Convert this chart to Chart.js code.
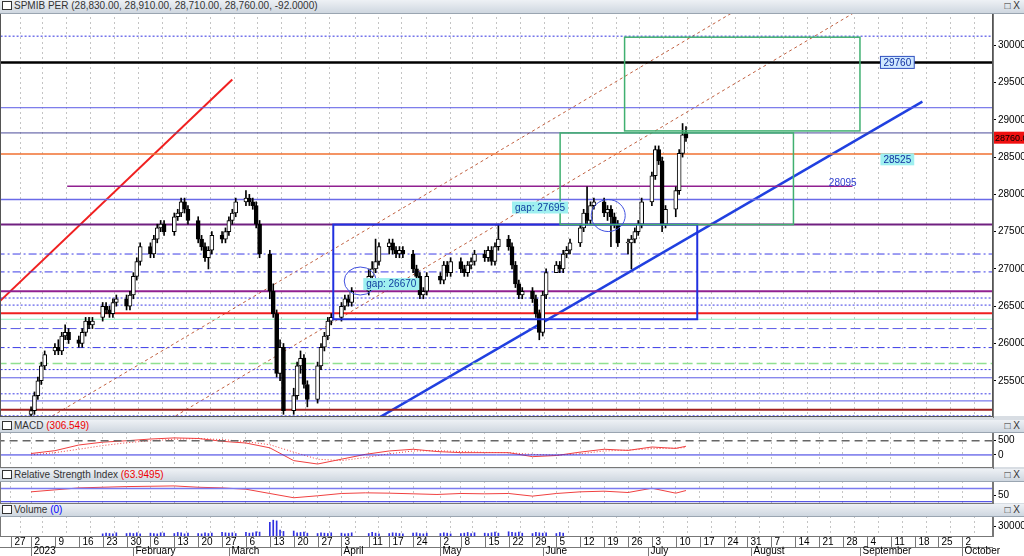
<!DOCTYPE html>
<html>
<head>
<meta charset="utf-8">
<script src="https://cdn.jsdelivr.net/npm/chart.js@4/dist/chart.umd.min.js"></script>
<style>
body { margin: 0; width: 1024px; height: 556px; background: #d8dde3; position: relative; overflow: hidden; font-family: "Liberation Sans", Arial, sans-serif; }
canvas { position: absolute; left: 0; }
.bg { position: absolute; left: 0; width: 1024px; background: #fff; }
.bar { position: absolute; left: 0; width: 1024px; z-index: 2; background: linear-gradient(#eef1f5, #cfd7e0); font-size: 10px; line-height: 12px; color: #333; border-bottom: 1px solid #9aa5b1; }
.bar .ico { display: inline-block; width: 8px; height: 7px; border: 1px solid #333; margin: 0 2px 0 2px; vertical-align: -1px; background: #fff; }
.bar .btn { position: absolute; right: 4px; top: 0; font-size: 10px; }
</style>
</head>
<body>
<div class="bg" style="top:13px;height:403px"></div>
<div class="bg" style="top:433px;height:34px"></div>
<div class="bg" style="top:482px;height:21px"></div>
<div class="bg" style="top:517px;height:39px"></div>
<div class="bar" style="top:0;height:13px"><span class="ico"></span>SPMIB PER (28,830.00, 28,910.00, 28,710.00, 28,760.00, -92.0000)<span class="btn">&#9633; X</span></div>
<canvas id="main" width="1024" height="421" style="top:4px"></canvas>
<div class="bar" style="top:420px;height:12px"><span class="ico"></span>MACD <span style="color:#e00">(306.549)</span><span class="btn">&#9633; X</span></div>
<canvas id="macd" width="1024" height="52" style="top:424px"></canvas>
<div class="bar" style="top:469px;height:12px"><span class="ico"></span>Relative Strength Index <span style="color:#e00">(63.9495)</span><span class="btn">&#9633; X</span></div>
<canvas id="rsi" width="1024" height="39" style="top:473px"></canvas>
<div class="bar" style="top:504px;height:12px"><span class="ico"></span>Volume <span style="color:#00f">(0)</span><span class="btn">&#9633; X</span></div>
<canvas id="vol" width="1024" height="48" style="top:508px"></canvas>
<script>
// daily OHLC, Jan 2 - Jul 13 2023
const opens = [25050,25100,25300,25500,25700, 25900,25950,25900,26100,26150, 26050,26000,26150,26300,26250, 26350,26500,26450,26400,26550, 26600,26500,
  26650,26900,27100, 27300,27200,27400,27550,27600, 27500,27700,27750,27900,27800, 27650,27400,27300,27150,27250, 27450,27400,27500,27650,27750,
  27900,27950,27900,27850,27600, 27200,26700,26400,25600,25950, 25100,25300,25700,25800,25450, 25250,25700,25950,26100,26300,
  26350,26500,26600,26550, 26700,26900,27000,27100, 27300,27350,27250,27200,27250, 27200,27000,26900,26650,26700,
  26900,26850,27050,26950, 27100,27000,26950,27050,27100, 27200,27150,27250,27100,27300, 27400,27300,27050,26800,26650,
  26700,26600,26400,26150,26650, 26950,27050,27000,27200,27250, 27350,27550,27750,27650,27850, 27900,27750,27800,27700,27600,
  27350,27350,27400,27500,27600, 27900,28250,28600,28450,27600, 27800,28050,28550,28830];
const highs = [25150,25350,25550,25750,25900, 26000,26050,26150,26250,26200, 26100,26200,26350,26350,26350, 26550,26550,26500,26600,26650, 26650,26700,
  26950,27150,27350, 27350,27450,27600,27650,27650, 27750,27800,27950,27950,27850, 27700,27450,27350,27300,27500, 27500,27550,27700,27800,27950,
  28050,28000,27950,27900,27650, 27250,26800,26450,26050,26000, 25400,25750,25900,25850,25500, 25750,26000,26150,26350,26400,
  26550,26650,26650,26750, 27000,27100,27400,27350, 27400,27400,27300,27300,27300, 27250,27050,26950,26750,26950,
  26950,27100,27100,27150, 27150,27050,27100,27150,27250, 27250,27300,27300,27350,27600, 27450,27350,27100,26850,26750,
  26750,26650,26450,26700,27000, 27100,27100,27250,27300,27400, 27600,27800,28100,27900,27950, 27950,27850,27850,27750,27650,
  27400,27450,27550,27650,27950, 28300,28650,28650,28500,27850, 28100,28600,28950,28910];
const lows = [25000,25050,25250,25450,25650, 25850,25850,25850,26050,26000, 25950,25950,26100,26200,26200, 26300,26400,26350,26350,26500, 26450,26450,
  26600,26850,27050, 27150,27150,27350,27500,27450, 27450,27650,27700,27750,27600, 27350,27250,27100,27000,27200, 27350,27350,27450,27600,27700,
  27850,27850,27800,27550,27150, 26600,26350,25550,25500,25050, 25050,25250,25600,25400,25150, 25200,25650,25900,26050,26250,
  26300,26450,26500,26500, 26650,26850,26950,27050, 27200,27200,27150,27150,27150, 26950,26850,26600,26600,26650,
  26800,26800,26900,26900, 26950,26900,26900,27000,27050, 27100,27100,27050,27050,27250, 27250,27000,26750,26600,26600,
  26550,26350,26050,26100,26600, 26950,26950,26950,27150,27200, 27300,27500,27600,27600,27800, 27700,27650,27300,27550,27300,
  27200,27000,27350,27450,27550, 27850,28200,28400,27500,27550, 27700,28000,28500,28710];
const closes = [25100,25300,25500,25700,25850, 25950,25900,26100,26150,26050, 26000,26150,26300,26250,26300, 26500,26450,26400,26550,26600, 26500,26650,
  26900,27100,27300, 27200,27400,27550,27600,27500, 27700,27750,27900,27800,27650, 27400,27300,27150,27250,27450, 27400,27500,27650,27750,27900,
  27950,27900,27850,27600,27200, 26700,26400,25600,25950,25100, 25300,25700,25800,25450,25250, 25700,25950,26100,26300,26350,
  26500,26600,26550,26700, 26900,27000,27100,27300, 27350,27250,27200,27250,27200, 27000,26900,26650,26700,26900,
  26850,27050,26950,27100, 27000,26950,27050,27100,27200, 27150,27250,27100,27300,27400, 27300,27050,26800,26650,26700,
  26600,26400,26150,26650,26950, 27050,27000,27200,27250,27350, 27550,27750,27650,27850,27900, 27750,27800,27700,27600,27350,
  27350,27400,27500,27600,27900, 28250,28600,28450,27600,27800, 28050,28550,28800,28760];
const volumes = [0,0,0,0,0, 0,0,0,0,0, 0,0,0,0,0, 9000,11000,10000,9000,12000, 10000,11000,
  10000,12000,9000, 11000,10000,9000,12000,11000, 10000,13000,12000,9000,11000, 10000,9000,12000,10000,11000, 13000,12000,
  11000,12000,10000, 13000,11000,12000,15000,14000, 42000,48000,46000,20000,16000, 17000,12000,13000,14000,11000, 10000,12000,11000,10000,12000,
  11000,9000,10000,12000, 10000,13000,11000,9000, 10000,12000,11000,10000,9000, 11000,12000,10000,9000,11000,
  10000,12000,11000,9000, 10000,11000,13000,10000,12000, 11000,10000,12000,14000,11000, 15000,13000,12000,14000,11000, 10000,13000,12000,
  11000,12000,10000,13000,11000, 0,0,0,0,0, 0,0,0,0,0, 0,0,0,0,0, 0,0,
  0,0,0,0,0, 0,0,0,0];

// weekly indicator readings (days counted from Jan 2)
const weekDays = [0,7,14,21,28,35,42,49,56,63,70,77,84,91,98,105,112,119,126,133,140,147,154,161,168,175,182,189,192];
const macdLine = [50,150,350,450,500,560,600,580,480,420,250,-200,-320,-150,20,140,200,120,80,80,80,-60,-20,100,200,160,280,230,306];
const macdSignal = [0,80,200,330,430,500,550,580,540,470,360,100,-150,-200,-90,40,140,150,120,90,80,20,-10,40,140,170,220,240,260];
const rsiValues = [60,66,72,74,76,77,78,74,72,68,55,42,48,55,57,56,54,52,55,54,55,47,55,60,62,58,71,56,64];

// axis labels
const tickDays = [-6,0,7,14,21,28,35,42,49,56,63,70,77,84,91,99,105,112,120,126,133,140,147,154,161,168,175,182,189,196,203,210,217,224,231,238,245,252,259,266,273];
const tickLabels = ['27','2','9','16','23','30','6','13','20','27','6','13','20','27','3','11','17','24','2','8','15','22','29','5','12','19','26','3','10','17','24','31','7','14','21','28','4','11','18','25','2'];
const monthDays = [0,30,58,91,120,150,181,211,243,273];
const monthNames = ['2023','February','March','April','May','June','July','August','September','October'];

// horizontal levels in the price pane
const levels = [30122,29770,29162,28824,28540,27932,27595,27200,26960,26700,26610,26515,26405,26325,26200,25945,25730,25650,25540,25325,25230,25110,25030];
const levelStyle = [
  ['#3030e0',1,[2,2]],['#000',2.5,[]],['#5a5ae6',1,[]],['#4a4a9a',1,[]],['#f07030',1.5,[]],['#6a6ae8',1.5,[]],['#702080',2,[]],
  ['#3c3ce6',1,[8,3,2,3]],['#3c3ce6',1,[8,3,2,3]],['#902090',2,[]],['#3c3ce6',1,[2,2]],['#3c3ce6',1,[2,2]],['#f02020',2,[]],
  ['#90f0c0',1,[]],['#5a5ae6',1,[10,4]],['#3c3ce6',1,[8,3,2,3]],['#90e090',1.5,[10,4]],['#3c3ce6',1,[2,2]],['#5a5ae6',1,[]],
  ['#3c3ce6',1,[2,2]],['#5a5ae6',1,[]],['#a02020',2,[]],['#3c3ce6',1,[2,2]]];

const XMIN = -9.1, XMAX = 282;
const holidays = ['2023-04-07','2023-04-10','2023-05-01'];
const days = [];
for (let t = Date.UTC(2023,0,2); days.length < closes.length; t += 864e5) {
    const d = new Date(t), wd = d.getUTCDay();
    if (wd === 0 || wd === 6 || holidays.includes(d.toISOString().slice(0,10))) continue;
    days.push((t - Date.UTC(2023,0,2)) / 864e5);
}

const FONT = { family: 'Liberation Sans', size: 10 };
function xScale(axisHeight) {
    return {
        type: 'linear', min: XMIN, max: XMAX, offset: false,
        afterBuildTicks: s => { s.ticks = tickDays.map(v => ({ value: v })); },
        afterFit: s => { s.height = axisHeight; },
        grid: { color: '#c4c4c4', drawTicks: false, lineWidth: 1 },
        border: { display: true, width: 0, dash: [2,3] },
        ticks: { display: false }
    };
}
function yScale(min, max, ticks) {
    return {
        position: 'right', min: min, max: max,
        afterBuildTicks: s => { s.ticks = ticks.map(v => ({ value: v })); },
        afterFit: s => { s.width = 31; },
        grid: { drawOnChartArea: false, color: '#000', tickLength: 3 },
        border: { color: '#777' },
        ticks: { font: FONT, color: '#000', padding: 2, callback: v => String(v) }
    };
}
// pad keeps the plot area exactly where each pane sits
const baseOpts = pad => ({
    responsive: false, animation: false, maintainAspectRatio: false,
    layout: { padding: { top: pad[0], bottom: pad[1], left: 0, right: 0 }, autoPadding: false },
    plugins: { legend: { display: false }, tooltip: { enabled: false } },
    elements: { point: { radius: 0 } }
});
const seg = (x1, y1, x2, y2) => [{ x: x1, y: y1 }, { x: x2, y: y2 }];
function lineDs(data, color, width, dash) {
    return { type: 'line', data: data, borderColor: color, borderWidth: width, borderDash: dash, pointRadius: 0, tension: 0, order: 5 };
}

// price pane
const priceDs = [];
levels.forEach((v, i) => {
    const st = levelStyle[i];
    priceDs.push(lineDs(seg(XMIN - 1, v, XMAX + 1, v), st[0], st[1], st[2]));
});
priceDs.push(lineDs(seg(10.6, 28108, 240.8, 28108), '#902090', 1.5, []));
priceDs.push(lineDs(seg(4.7, 24986, 205.9, 30446), '#c06040', 1, [3,3]));
priceDs.push(lineDs(seg(40.8, 24986, 243.1, 30486), '#c06040', 1, [3,3]));
priceDs.push(lineDs(seg(-9.1, 26568, 59, 29540), '#f02020', 2, []));
priceDs.push(lineDs(seg(100.3, 24960, 261.3, 29243), '#2040e0', 2.5, []));
priceDs.push({
    type: 'bar', order: 1, grouped: false, barThickness: 1,
    data: days.map((x, i) => ({ x: x, y: [lows[i], highs[i]] })),
    backgroundColor: '#000'
});
priceDs.push({
    type: 'bar', order: 0, grouped: false, barThickness: 4,
    data: days.map((x, i) => ({ x: x, y: [opens[i], closes[i] === opens[i] ? closes[i] + 10 : closes[i]] })),
    backgroundColor: days.map((x, i) => closes[i] >= opens[i] ? '#fff' : '#000'),
    borderColor: '#000', borderWidth: 1, borderSkipped: false
});

const shapes = {
    id: 'shapes',
    afterDatasetsDraw(chart) {
        const { ctx, scales: { x, y }, chartArea: a } = chart;
        const px = v => x.getPixelForValue(v), py = v => y.getPixelForValue(v);
        ctx.save();
        ctx.beginPath(); ctx.rect(a.left, a.top, a.right - a.left, a.bottom - a.top); ctx.clip();
        const rect = (x1, x2, y1, y2, c, w) => {
            ctx.strokeStyle = c; ctx.lineWidth = w;
            ctx.strokeRect(px(x1), py(y2), px(x2) - px(x1), py(y1) - py(y2));
        };
        rect(88.6, 195.3, 26325, 27595, '#2030e0', 2);
        rect(155.1, 223.5, 27595, 28824, '#40b070', 1.5);
        rect(174, 243, 28851, 30108, '#40b070', 1.5);
        ctx.strokeStyle = '#4050e0'; ctx.lineWidth = 1;
        ctx.beginPath(); ctx.ellipse(px(96.5), py(26838), 16, 14, 0, 0, Math.PI * 2); ctx.stroke();
        ctx.beginPath(); ctx.ellipse(px(169.2), py(27716), 17, 16, 0, 0, Math.PI * 2); ctx.stroke();
        ctx.font = '10px "Liberation Sans"'; ctx.textBaseline = 'middle';
        const tag = (txt, xv, yv, bg, border, color) => {
            const w = ctx.measureText(txt).width + 6, X = px(xv), Y = py(yv);
            if (bg) { ctx.fillStyle = bg; ctx.fillRect(X, Y - 6, w, 12); }
            if (border) { ctx.strokeStyle = border; ctx.strokeRect(X, Y - 6, w, 12); }
            ctx.fillStyle = color; ctx.fillText(txt, X + 3, Y + 0.5);
        };
        tag('gap: 26670', 97.4, 26797, '#9ff0f0', null, '#1040a0');
        tag('gap: 27695', 141, 27824, '#9ff0f0', null, '#1040a0');
        tag('29760', 249, 29770, '#cfe8ff', '#3050c0', '#1030a0');
        tag('28525', 249, 28470, '#9ff0f0', null, '#1030a0');
        tag('28095', 233, 28150, null, null, '#3040d0');
        ctx.restore();
        ctx.strokeStyle = '#555'; ctx.lineWidth = 1;
        ctx.strokeRect(a.left + 0.5, a.top + 0.5, a.right - a.left - 1, a.bottom - a.top - 1);
        const last = closes[closes.length - 1], Y = py(last);
        ctx.fillStyle = '#f01010'; ctx.fillRect(a.right + 1, Y - 6, 31, 12);
        ctx.fillStyle = '#000'; ctx.font = '9px "Liberation Sans"'; ctx.textBaseline = 'middle';
        ctx.fillText(last.toFixed(2), a.right + 2, Y + 0.5);
    }
};
new Chart(document.getElementById('main'), {
    data: { datasets: priceDs },
    options: Object.assign({}, baseOpts([0, 0]), {
        scales: { x: xScale(0), y: yScale(25014, 30446, [25500,26000,26500,27000,27500,28000,28500,29000,29500,30000]) }
    }),
    plugins: [shapes]
});

const frame = {
    id: 'frame',
    afterDraw(chart) {
        const { ctx, chartArea: a } = chart;
        ctx.strokeStyle = '#777'; ctx.lineWidth = 1;
        ctx.strokeRect(a.left + 0.5, a.top + 0.5, a.right - a.left - 1, a.bottom - a.top - 1);
    }
};
const pts = vals => weekDays.map((d, i) => ({ x: d, y: vals[i] }));

new Chart(document.getElementById('macd'), {
    data: { datasets: [
        lineDs(seg(XMIN - 1, 500, XMAX + 1, 500), '#666', 1.5, [8,5]),
        lineDs(seg(XMIN - 1, 0, XMAX + 1, 0), '#3030e0', 1, []),
        lineDs(pts(macdLine), '#f04040', 1, []),
        lineDs(pts(macdSignal), '#f04040', 1, [1,2])
    ] },
    options: Object.assign({}, baseOpts([0, 0]), { scales: { x: xScale(0), y: yScale(-460, 808, [0, 500]) } }),
    plugins: [frame]
});

new Chart(document.getElementById('rsi'), {
    data: { datasets: [
        lineDs(seg(XMIN - 1, 70, XMAX + 1, 70), '#7a7af0', 1.5, []),
        lineDs(seg(XMIN - 1, 30, XMAX + 1, 30), '#3030e0', 1, []),
        lineDs(pts(rsiValues), '#f04040', 1, [])
    ] },
    options: Object.assign({}, baseOpts([0, 0]), { scales: { x: xScale(0), y: yScale(23, 93, [50]) } }),
    plugins: [frame]
});

// date axis: week row and month row
const dateAxis = {
    id: 'dateAxis',
    afterDraw(chart) {
        const { ctx, scales: { x }, chartArea: a } = chart;
        const bottom = a.bottom + 19;
        ctx.save();
        ctx.fillStyle = '#fff'; ctx.fillRect(0, a.bottom, chart.width, bottom - a.bottom);
        ctx.font = '10px "Liberation Sans"'; ctx.fillStyle = '#000'; ctx.strokeStyle = '#777'; ctx.lineWidth = 1;
        ctx.textBaseline = 'bottom';
        const mid = a.bottom + 10.5;
        ctx.beginPath(); ctx.moveTo(0, mid); ctx.lineTo(a.right, mid); ctx.stroke();
        tickDays.forEach((d, i) => {
            const X = Math.round(x.getPixelForValue(d)) + 0.5;
            ctx.beginPath(); ctx.moveTo(X, a.bottom); ctx.lineTo(X, mid); ctx.stroke();
            ctx.fillText(tickLabels[i], X + 3, mid);
        });
        monthDays.forEach((d, i) => {
            const X = Math.round(x.getPixelForValue(d)) + 0.5;
            ctx.beginPath(); ctx.moveTo(X, mid); ctx.lineTo(X, bottom); ctx.stroke();
            ctx.fillText(monthNames[i], X + 2, bottom);
        });
        ctx.restore();
    }
};
new Chart(document.getElementById('vol'), {
    type: 'bar',
    data: { datasets: [{
        data: days.map((x, i) => ({ x: x, y: volumes[i] })),
        backgroundColor: '#3030e0', barThickness: 1
    }] },
    options: Object.assign({}, baseOpts([0, 0]), {
        scales: { x: xScale(19), y: yScale(0, 60000, [30000]) }
    }),
    plugins: [frame, dateAxis]
});
</script>
</body>
</html>
